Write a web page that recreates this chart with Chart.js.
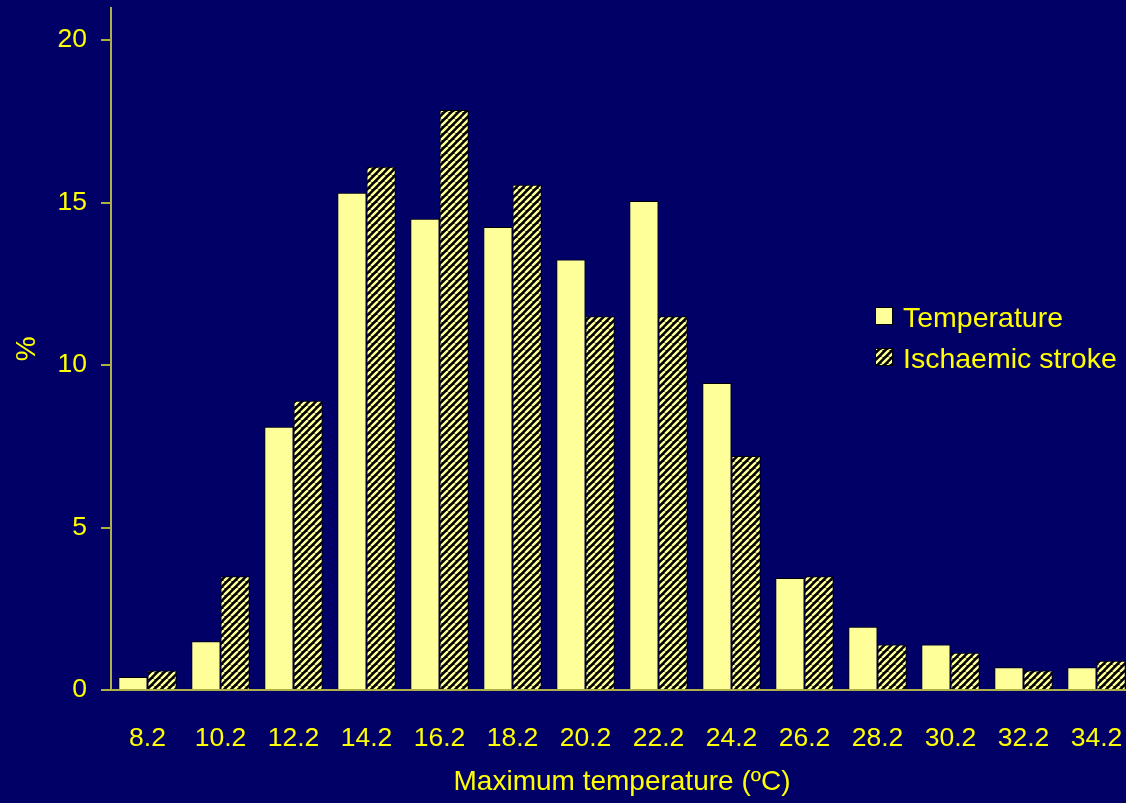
<!DOCTYPE html>
<html>
<head>
<meta charset="utf-8">
<script src="https://cdn.jsdelivr.net/npm/chart.js@4"></script>
<style>
  html, body { margin: 0; padding: 0; background: #000066; overflow: hidden; }
  #wrap { position: absolute; left: 0; top: 0; width: 1133px; height: 803px; }
</style>
</head>
<body>
<div id="wrap"><canvas id="c" width="1133" height="803"></canvas></div>
<script>
// Daily maximum temperature bins (ºC)
const categories = ['8.2', '10.2', '12.2', '14.2', '16.2', '18.2', '20.2', '22.2', '24.2', '26.2', '28.2', '30.2', '32.2', '34.2'];
// Share of days in each bin (%)
const temperaturePct = [0.4, 1.5, 8.1, 15.3, 14.5, 14.25, 13.25, 15.05, 9.45, 3.45, 1.95, 1.4, 0.7, 0.7];
// Share of ischaemic stroke admissions in each bin (%)
const strokePct = [0.6, 3.5, 8.9, 16.1, 17.85, 15.55, 11.5, 11.5, 7.2, 3.5, 1.4, 1.15, 0.6, 0.9];
const yTicks = [0, 5, 10, 15, 20];

const NAVY = '#000066';
const YELLOW = '#ffff00';
const PALE = '#ffff99';
const AXIS = '#b0b048';
const FONT = '"Liberation Sans", Arial, sans-serif';

// Diagonal hatch: pale yellow stripes on black
function hatchPattern() {
  const s = 7;
  const p = document.createElement('canvas');
  p.width = s; p.height = s;
  const g = p.getContext('2d');
  g.fillStyle = '#000000';
  g.fillRect(0, 0, s, s);
  g.strokeStyle = PALE;
  g.lineWidth = 2.4;
  g.beginPath();
  for (let k = -1; k <= 1; k++) {
    g.moveTo(k * s, s);
    g.lineTo(k * s + s, 0);
  }
  g.stroke();
  return g.createPattern(p, 'repeat');
}
const hatch = hatchPattern();

const bgPlugin = {
  id: 'bg',
  beforeDraw(chart) {
    const ctx = chart.ctx;
    ctx.save();
    ctx.fillStyle = NAVY;
    ctx.fillRect(0, 0, chart.width, chart.height);
    ctx.restore();
  }
};

// Legend drawn to the right of the peak, inside the plot
const sideLegend = {
  id: 'sideLegend',
  afterDraw(chart) {
    const ctx = chart.ctx;
    const x = 875, rows = [316, 357];
    ctx.save();
    ctx.font = '28.5px ' + FONT;
    ctx.textBaseline = 'middle';
    chart.data.datasets.forEach((ds, i) => {
      const y = rows[i];
      ctx.fillStyle = ds.backgroundColor;
      ctx.fillRect(x, y - 9, 18, 18);
      ctx.strokeStyle = '#000000';
      ctx.lineWidth = 1;
      ctx.strokeRect(x + 0.5, y - 8.5, 17, 17);
      ctx.fillStyle = YELLOW;
      ctx.fillText(ds.label, x + 28, y + 3);
    });
    ctx.restore();
  }
};

new Chart(document.getElementById('c'), {
  type: 'bar',
  data: {
    labels: categories,
    datasets: [
      { label: 'Temperature', data: temperaturePct, backgroundColor: PALE, borderColor: '#000000', borderWidth: 1 },
      { label: 'Ischaemic stroke', data: strokePct, backgroundColor: hatch, borderColor: '#000000', borderWidth: 1 }
    ]
  },
  options: {
    responsive: false,
    animation: false,
    devicePixelRatio: 1,
    layout: { padding: { top: 7.5, right: 0, left: 0, bottom: 0 } },
    datasets: { bar: { categoryPercentage: 0.8, barPercentage: 1.0 } },
    plugins: { legend: { display: false }, tooltip: { enabled: false } },
    scales: {
      x: {
        grid: { display: false },
        border: { display: true, color: AXIS, width: 2 },
        ticks: { color: YELLOW, font: { family: FONT, size: 26.5 }, padding: 25, maxRotation: 0, autoSkip: false },
        title: { display: true, text: 'Maximum temperature (ºC)', color: YELLOW, font: { family: FONT, size: 28 }, padding: { top: 13 } },
        afterFit(scale) { scale.height = 113; scale.paddingLeft = 0; scale.paddingRight = 0; }
      },
      y: {
        min: 0, max: 21,
        afterBuildTicks(scale) { scale.ticks = yTicks.map(v => ({ value: v })); },
        grid: { display: true, drawOnChartArea: false, drawTicks: true, tickLength: 10, color: AXIS, lineWidth: 2 },
        border: { display: true, color: AXIS, width: 2 },
        ticks: { color: YELLOW, font: { family: FONT, size: 26.5 }, padding: 14 },
        title: { display: true, text: '%', color: YELLOW, font: { family: FONT, size: 28 }, padding: { top: 10, bottom: 0 } },
        afterFit(scale) { scale.width = 111; scale.paddingTop = 0; scale.paddingBottom = 0; }
      }
    }
  },
  plugins: [bgPlugin, sideLegend]
});
</script>
</body>
</html>
